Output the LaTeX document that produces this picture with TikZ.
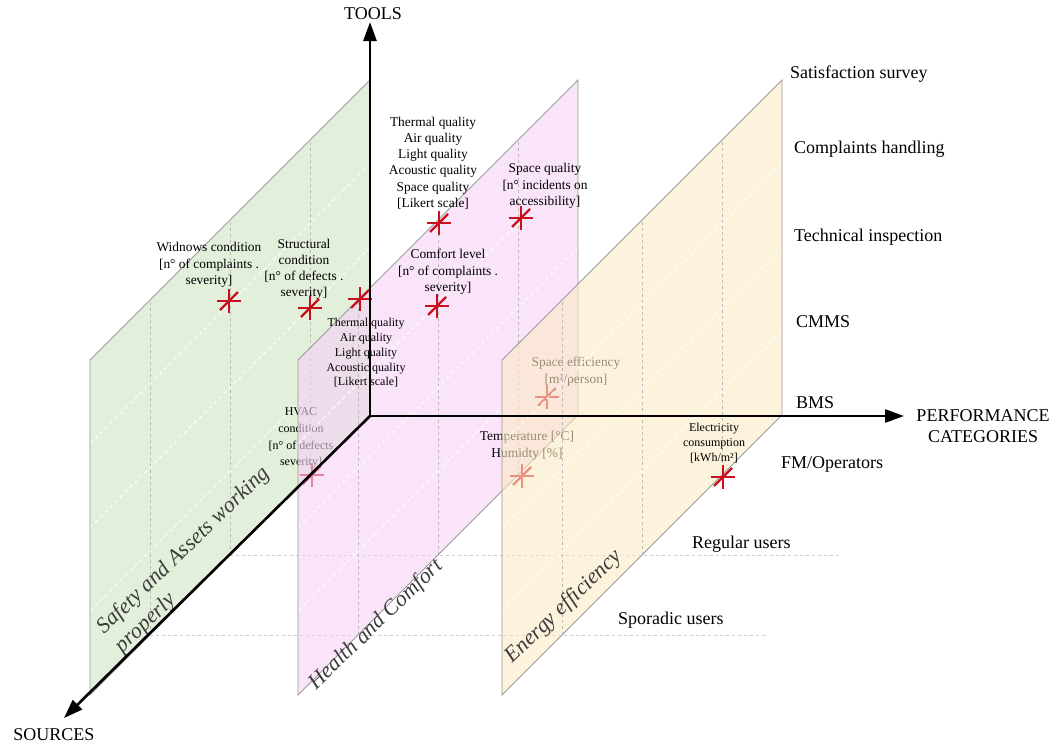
\documentclass[tikz,border=0pt]{standalone}
\usepackage{fontspec}
\setmainfont{Liberation Serif}
\usetikzlibrary{arrows.meta}

\definecolor{safetyfill}{RGB}{207,228,193}
\definecolor{healthfill}{RGB}{246,210,246}
\definecolor{energyfill}{RGB}{252,235,197}
\definecolor{markred}{RGB}{200,16,30}
\definecolor{titlegray}{RGB}{60,60,60}

\newcommand{\fsz}[2]{\fontsize{#1}{#2}\selectfont}

% one category plane: #1 = offset along the performance axis, #2 = fill colour
\newcommand{\catplane}[2]{%
  \fill[#2, fill opacity=0.6] ({370+#1},415) -- ({90+#1},695) -- ({90+#1},360) -- ({370+#1},80) -- cycle;
  \foreach \s in {60,140,220}
    \draw[srcgrid] ({370+#1-\s},{415+\s}) -- ({370+#1-\s},{80+\s});
  \foreach \t in {83.75,167.5,251.25}
    \draw[toolgrid] ({370+#1},{415-\t}) -- ({90+#1},{695-\t});
  \draw[planeedge] ({370+#1},415) -- ({90+#1},695) -- ({90+#1},360) -- ({370+#1},80) -- cycle;
}

\tikzset{
  x=1pt, y=-1pt,
  planeedge/.style={draw=gray!80, line width=0.9pt},
  srcgrid/.style={draw=gray!55, dash pattern=on 3pt off 3pt, line width=0.6pt},
  toolgrid/.style={draw=white, dash pattern=on 4pt off 3pt, line width=0.9pt},
  levelline/.style={draw=gray!40, dash pattern=on 3pt off 3pt, line width=0.7pt},
  axisline/.style={line width=2.6pt, -{Triangle[length=19pt,width=13pt]}},
  kpi/.style={inner sep=0pt, align=center, font=\fsz{13.4}{16.5}},
  kpismall/.style={inner sep=0pt, align=center, font=\fsz{12}{14.7}},
  levellabel/.style={inner sep=0pt, anchor=base west, font=\fsz{18}{21}},
  axislabel/.style={inner sep=0pt, align=center, font=\fsz{18}{21}},
  planetitle/.style={inner sep=0pt, align=left, rotate=44, text=titlegray,
    font=\fsz{22}{26}\itshape},
  mark3d/.pic={
    \draw[markred, line width=2.4pt] (-12,0) -- (12,0);
    \draw[markred, line width=2.4pt] (0,-12) -- (0,12);
    \draw[markred, line width=2.4pt] (-9,9) -- (9,-9);
  },
}

\begin{document}
\begin{tikzpicture}
\useasboundingbox (0,0) rectangle (1055,744);

% source levels on the ground plane
\coordinate (regA) at (230,555);
\coordinate (regB) at (840,555);
\coordinate (spoA) at (150,635);
\coordinate (spoB) at (767,635);
\draw[levelline] (regA) -- (regB);
\draw[levelline] (spoA) -- (spoB);

% ---------- Safety and Assets working properly ----------
\catplane{0}{safetyfill}
\node[kpi] (windows) at (209,265) {Widnows condition\\[0pt][n° of complaints .\\severity]};
\pic at (229,301) {mark3d};
\node[kpi, font=\fsz{13.4}{16}] (structural) at (304,269) {Structural\\condition\\[0pt][n° of defects .\\severity]};
\pic at (310,308) {mark3d};
\node[kpi, font=\fsz{12}{16.7}] (hvac) at (301,438) {HVAC\\condition\\[0pt][n° of defects\\severity]};
\pic at (312,475) {mark3d};
\node[planetitle] (safetytitle) at (193,560) {Safety and Assets working\\properly};

% ---------- Health and Comfort ----------
\catplane{208}{healthfill}
\node[kpi, font=\fsz{13.4}{16.2}] (comfortA) at (433,163) {Thermal quality\\Air quality\\Light quality\\Acoustic quality\\Space quality\\[0pt][Likert scale]};
\pic at (439,223) {mark3d};
\node[kpi] (spacequal) at (545,186) {Space quality\\[0pt][n° incidents on\\accessibility]};
\pic at (521,218) {mark3d};
\node[kpi] (comfortlvl) at (448,272) {Comfort level\\[0pt][n° of complaints .\\severity]};
\pic at (437,306) {mark3d};
\pic at (360,299) {mark3d};
\node[kpismall] (comfortB) at (366,353) {Thermal quality\\Air quality\\Light quality\\Acoustic quality\\[0pt][Likert scale]};
\node[kpi, font=\fsz{13.4}{17}] (spaceeff) at (576,372) {Space efficiency\\[0pt][m²/person]};
\pic at (547,397) {mark3d};
\node[kpi, font=\fsz{13.4}{17.5}] (temphum) at (527,446) {Temperature [°C]\\Humidty [\%]};
\pic at (522,476) {mark3d};
\node[planetitle] (healthtitle) at (376,625) {Health and Comfort};

% ---------- Energy efficiency ----------
\catplane{412}{energyfill}
\node[kpismall] (elec) at (714,443) {Electricity\\consumption\\[0pt][kWh/m²]};
\pic at (723,477) {mark3d};
\node[planetitle] (energytitle) at (564,607) {Energy efficiency};

% ---------- axes ----------
\coordinate (O) at (370,416);
\coordinate (toolsEnd) at (370,22);
\coordinate (perfEnd) at (904,416);
\coordinate (srcEnd) at (64,718);
\draw[axisline] (O) -- (toolsEnd);
\draw[axisline] (O) -- (perfEnd);
\draw[axisline] (O) -- (srcEnd);

\node[axislabel] (toolsLbl) at (373,14) {TOOLS};
\node[axislabel] (perfLbl) at (983,426) {PERFORMANCE\\CATEGORIES};
\node[axislabel] (srcLbl) at (54,735) {SOURCES};

% tool levels
\node[levellabel] (sat) at (790,78) {Satisfaction survey};
\node[levellabel] (compl) at (794,153) {Complaints handling};
\node[levellabel] (tech) at (794,241) {Technical inspection};
\node[levellabel] (cmms) at (796,327) {CMMS};
\node[levellabel] (bms) at (796,408) {BMS};

% source levels
\node[levellabel] (fm) at (781,468) {FM/Operators};
\node[levellabel] (regular) at (692,548) {Regular users};
\node[levellabel] (sporadic) at (618,624) {Sporadic users};
\end{tikzpicture}
\end{document}
